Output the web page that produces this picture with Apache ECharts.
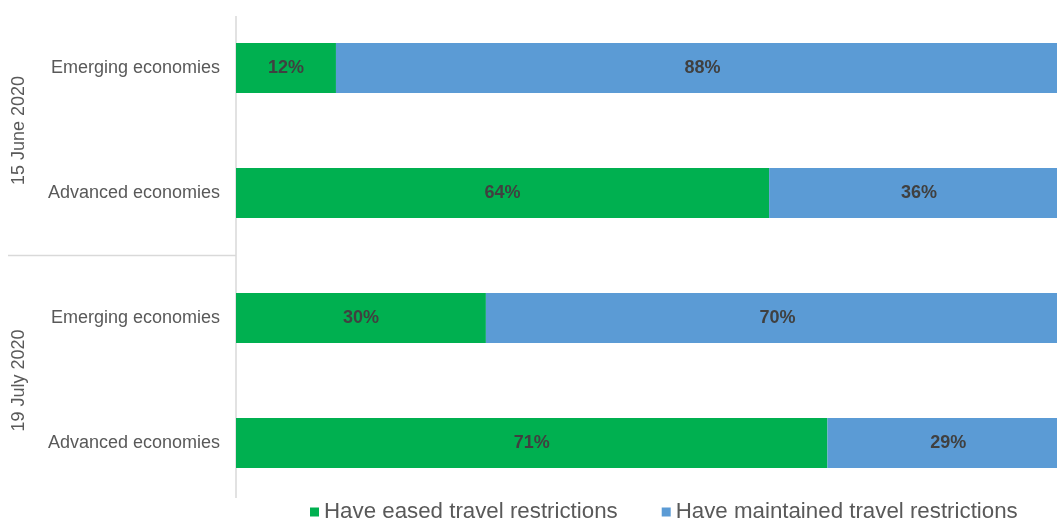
<!DOCTYPE html>
<html>
<head>
<meta charset="utf-8">
<script src="https://cdn.jsdelivr.net/npm/echarts@6/dist/echarts.min.js"></script>
<style>
html,body{margin:0;padding:0;background:#fff;}
#chart{width:1057px;height:519px;}
</style>
</head>
<body>
<div id="chart"></div>
<script>
var categories = ['Emerging economies', 'Advanced economies', 'Emerging economies', 'Advanced economies'];
var groups = ['15 June 2020', '19 July 2020'];
var eased = [12, 64, 30, 71];
var maintained = [88, 36, 70, 29];
var seriesNames = ['Have eased travel restrictions', 'Have maintained travel restrictions'];

var chart = echarts.init(document.getElementById('chart'));
var labelStyle = {
  show: true, position: 'inside', formatter: '{c}%',
  fontFamily: 'Liberation Sans, Arial, sans-serif', fontWeight: 'bold', fontSize: 18, color: '#404040'
};
chart.setOption({
  animation: false,
  grid: { left: 236, width: 833, top: 5.5, height: 500, outerBoundsMode: 'none', containLabel: false },
  xAxis: { type: 'value', min: 0, max: 100, show: false },
  yAxis: [
    {
      type: 'category', inverse: true, data: categories,
      axisLine: { show: false }, axisTick: { show: false },
      axisLabel: { margin: 16, fontSize: 18, color: '#595959', fontFamily: 'Liberation Sans, Arial, sans-serif' }
    },
    {
      type: 'category', inverse: true, data: groups, position: 'left',
      axisLine: { show: false }, axisTick: { show: false },
      axisLabel: { rotate: 90, margin: 208, fontSize: 18, color: '#595959', fontFamily: 'Liberation Sans, Arial, sans-serif' }
    }
  ],
  legend: {
    left: 305, top: 496, icon: 'rect', itemWidth: 9, itemHeight: 9, itemGap: 44,
    textStyle: { fontSize: 22.3, color: '#595959', fontFamily: 'Liberation Sans, Arial, sans-serif' }
  },
  series: [
    { name: seriesNames[0], type: 'bar', stack: 't', barWidth: 50, data: eased,
      itemStyle: { color: '#00B050' }, label: labelStyle },
    { name: seriesNames[1], type: 'bar', stack: 't', barWidth: 50, data: maintained,
      itemStyle: { color: '#5B9BD5' }, label: labelStyle }
  ]
});

var axisX = chart.convertToPixel({ xAxisIndex: 0 }, 0);
var c1 = chart.convertToPixel({ yAxisIndex: 0 }, 1);
var c2 = chart.convertToPixel({ yAxisIndex: 0 }, 2);
var c0 = chart.convertToPixel({ yAxisIndex: 0 }, 0);
var c3 = chart.convertToPixel({ yAxisIndex: 0 }, 3);
var sep = (c1 + c2) / 2;
var half = (c2 - c1) / 2;
chart.setOption({
  graphic: [
    { type: 'line', shape: { x1: axisX, y1: c0 - half + 10.5, x2: axisX, y2: c3 + half - 7.5 },
      style: { stroke: '#d9d9d9', lineWidth: 1.5 }, silent: true },
    { type: 'line', shape: { x1: 8, y1: sep, x2: axisX, y2: sep },
      style: { stroke: '#d9d9d9', lineWidth: 1.5 }, silent: true }
  ]
});
</script>
</body>
</html>
